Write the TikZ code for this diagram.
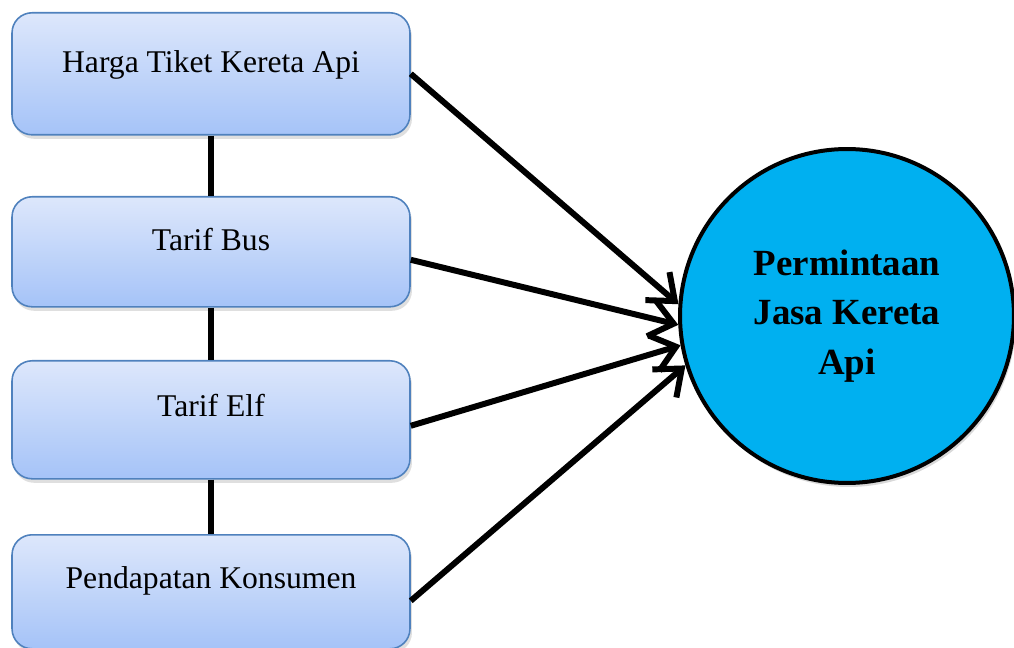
\documentclass[tikz,border=0pt]{standalone}
\usepackage{fontspec}
\setmainfont{Liberation Serif}
\usetikzlibrary{arrows.meta,shadows}
\definecolor{boxtop}{RGB}{221,231,251}
\definecolor{boxbot}{RGB}{165,195,248}
\definecolor{boxline}{RGB}{79,129,189}
\definecolor{circfill}{RGB}{0,176,240}
\begin{document}
\begin{tikzpicture}[x=0.02cm,y=-0.02cm,
    box/.style={draw=boxline,line width=0.9pt,rounded corners=0.4cm,
      top color=boxtop,bottom color=boxbot,minimum width=7.96cm,
      inner ysep=0pt,anchor=north,font=\fontsize{18}{22}\selectfont,
      drop shadow={shadow xshift=0.4mm,shadow yshift=-0.8mm,opacity=0.25}},
    link/.style={line width=3.4pt},
    arr/.style={line width=3.4pt,-{Straight Barb[length=4.6mm,width=7.4mm]}}]
     \useasboundingbox (0,0) rectangle (1014,648);
     % Boxes (name/top/height/baseline/text)
     \foreach \nm/\top/\h/\b/\txt in {hti/12/122/60/Harga Tiket Kereta Api,
        bus/196/110/54/Tarif Bus,elf/360/118/56/Tarif Elf,
        pk/534/114/54/Pendapatan Konsumen} {
      \pgfmathsetmacro\th{\b*0.02}
      \pgfmathsetmacro\td{(\h-\b)*0.02}
      \node[box,text height=\th cm,text depth=\td cm] (\nm) at (211,\top) {\txt};
     };
     % Circle
     \node[circle,draw,line width=0.08cm,fill=circfill,minimum size=6.68cm,
       align=center,font=\fontsize{21}{28}\selectfont\bfseries,
       drop shadow={shadow xshift=0.4mm,shadow yshift=-0.8mm,opacity=0.3}]
       (pjka) at (847,316) {Permintaan\\Jasa Kereta\\Api};
     % Links and arrows
     \draw[link] (hti.south) -- (bus.north);
     \draw[link] (bus.south) -- (elf.north);
     \draw[link] (elf.south) -- (pk.north);
     \foreach \src/\dy/\ang in {hti/0/176,bus/8/183,elf/6/190,pk/9/197} {
      \draw[arr] ([yshift=-\dy*0.02cm]\src.east) -- (pjka.\ang);
     };
    \end{tikzpicture}
\end{document}
